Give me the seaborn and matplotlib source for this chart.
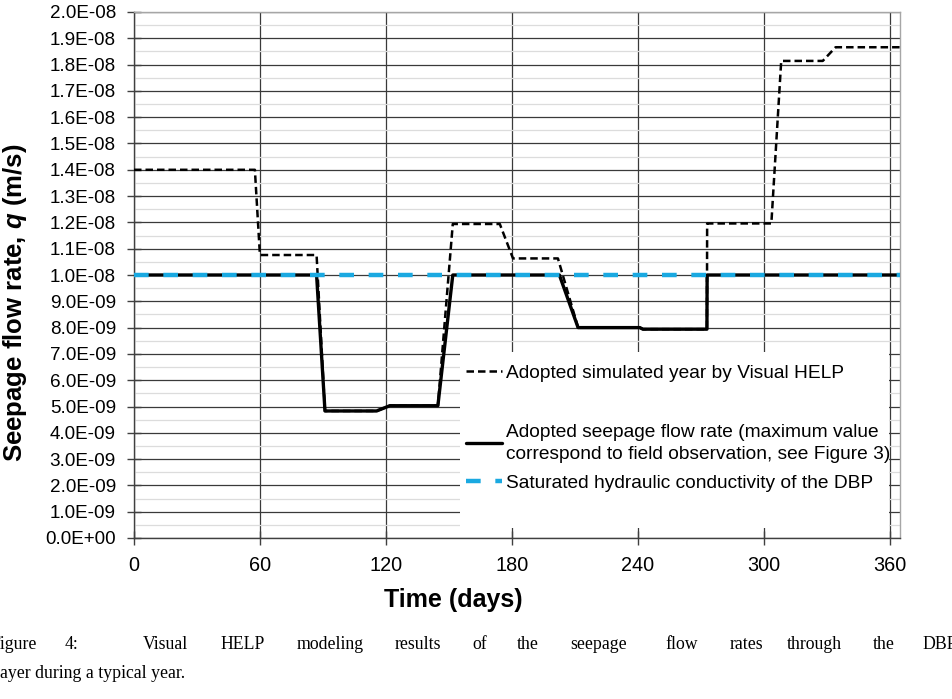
import matplotlib
matplotlib.use("Agg")
import matplotlib.pyplot as plt
import matplotlib.ticker as mticker
from matplotlib.patches import Rectangle
from matplotlib.lines import Line2D
import seaborn as sns
import pandas as pd

# ---------------- data ----------------
sim_days = [0, 57.6, 60, 87, 91, 115.6, 121.9, 144.8, 151.9, 174.3, 180.6, 202,
            211.6, 241, 242.5, 273, 273.1, 303.7, 308.4, 328.2, 334.3, 365]
sim_q = [1.40e-8, 1.40e-8, 1.076e-8, 1.076e-8, 0.483e-8, 0.483e-8, 0.503e-8, 0.503e-8,
         1.194e-8, 1.194e-8, 1.063e-8, 1.063e-8, 0.80e-8, 0.80e-8, 0.794e-8, 0.794e-8,
         1.196e-8, 1.196e-8, 1.814e-8, 1.814e-8, 1.866e-8, 1.866e-8]

adopt_days = [0, 87, 91, 115.6, 121.9, 144.8, 151.9, 202.7, 211.6, 241, 242.5, 273, 273.1, 365]
adopt_q = [1.0e-8, 1.0e-8, 0.483e-8, 0.483e-8, 0.503e-8, 0.503e-8, 1.0e-8, 1.0e-8,
           0.80e-8, 0.80e-8, 0.794e-8, 0.794e-8, 1.0e-8, 1.0e-8]

ksat_days = [0, 365]
ksat_q = [1.0e-8, 1.0e-8]

labels = ["Adopted simulated year by Visual HELP",
          "Adopted seepage flow rate (maximum value\ncorrespond to field observation, see Figure 3)",
          "Saturated hydraulic conductivity of the DBP"]

x_ticks = [0, 60, 120, 180, 240, 300, 360]
caption_line1 = ["Figure", "4:", "Visual", "HELP", "modeling", "results", "of", "the",
                 "seepage", "flow", "rates", "through", "the", "DBP"]
caption_line2 = "layer during a typical year."

# ---------------- style ----------------
sns.set_theme(style="white")
plt.rcParams["font.family"] = ["Liberation Sans", "DejaVu Sans"]
plt.rcParams["text.color"] = "black"
plt.rcParams["axes.labelcolor"] = "black"
plt.rcParams["xtick.color"] = "black"
plt.rcParams["ytick.color"] = "black"
plt.rcParams["mathtext.fontset"] = "custom"
plt.rcParams["mathtext.rm"] = "Liberation Sans:bold"
plt.rcParams["mathtext.it"] = "Liberation Sans:bold:italic"
plt.rcParams["mathtext.bf"] = "Liberation Sans:bold"

W, H = 953, 699
fig = plt.figure(figsize=(W / 100, H / 100), dpi=100)
L, R, T, B = 134, 900, 12, 538
ax = fig.add_axes([L / W, 1 - B / H, (R - L) / W, (B - T) / H])

df_sim = pd.DataFrame({"day": sim_days, "q": sim_q})
df_adopt = pd.DataFrame({"day": adopt_days, "q": adopt_q})
df_ksat = pd.DataFrame({"day": ksat_days, "q": ksat_q})

SIM_LW, SIM_DASH = 1.8, (3.0, 1.6)
ADP_LW = 2.4
KS_LW, KS_DASH = 3.2, (3.3, 3.3)
KS_COLOR = "#1AA9E1"

sns.lineplot(data=df_sim, x="day", y="q", ax=ax, color="black", linewidth=SIM_LW,
             estimator=None, sort=False, zorder=3)
ax.lines[-1].set_dashes(SIM_DASH)
sns.lineplot(data=df_adopt, x="day", y="q", ax=ax, color="black", linewidth=ADP_LW,
             estimator=None, sort=False, zorder=4)
sns.lineplot(data=df_ksat, x="day", y="q", ax=ax, color=KS_COLOR, linewidth=KS_LW,
             estimator=None, sort=False, zorder=5)
ax.lines[-1].set_dashes(KS_DASH)

ax.set_xlim(0, 365)
ax.set_ylim(0, 2.0e-8)
ax.set_xticks(x_ticks)
ax.yaxis.set_major_locator(mticker.MultipleLocator(1e-9))
ax.yaxis.set_minor_locator(mticker.MultipleLocator(5e-10))
ax.yaxis.set_major_formatter(mticker.FuncFormatter(lambda v, p: f"{v:.1E}"))
ax.tick_params(axis="y", which="major", direction="inout", length=10, width=1,
               color="#404040", labelsize=13.6, pad=8, labelcolor="black")
ax.tick_params(axis="y", which="minor", length=0)
ax.tick_params(axis="x", which="major", direction="inout", length=10, width=1,
               color="#404040", labelsize=14.3, pad=8, labelcolor="black")
ax.tick_params(left=True, bottom=True)

ax.grid(True, which="major", axis="both", color="#3a3a3a", linewidth=0.9, zorder=1)
ax.grid(True, which="minor", axis="y", color="#dcdcdc", linewidth=0.9, zorder=0.5)
ax.set_axisbelow(True)
for s in ["left", "bottom"]:
    ax.spines[s].set_color("#404040")
    ax.spines[s].set_linewidth(1.0)
for s in ["top", "right"]:
    ax.spines[s].set_color("#a6a6a6")
    ax.spines[s].set_linewidth(1.0)

ax.set_xlabel("Time (days)", fontsize=18, fontweight="bold", color="black")
ax.set_ylabel(r"Seepage flow rate, $\mathit{q}$ (m/s)", fontsize=18.5,
              fontweight="bold", color="black")
ax.yaxis.set_label_coords((15 - L) / (R - L), (B - 303) / (B - T))
ax.xaxis.set_label_coords((453 - L) / (R - L), -(600 - B) / (B - T))
ax.xaxis.label.set_va("center")
ax.yaxis.label.set_va("center")

# legend background box
bx0 = (460 - L) / (R - L)
bx1 = (889 - L) / (R - L)
by0 = (B - 528) / (B - T)
by1 = (B - 352) / (B - T)
ax.add_patch(Rectangle((bx0, by0), bx1 - bx0, by1 - by0, transform=ax.transAxes,
                       facecolor="white", edgecolor="none", zorder=2.5))

h_sim = Line2D([], [], color="black", linewidth=SIM_LW, dashes=SIM_DASH)
h_adopt = Line2D([], [], color="black", linewidth=ADP_LW)
h_ksat = Line2D([], [], color=KS_COLOR, linewidth=KS_LW, dashes=KS_DASH)

hx = (466 - L) / (R - L)
leg1 = ax.legend([h_sim], [labels[0]], loc="center left",
                 bbox_to_anchor=(hx, (B - 373) / (B - T)), frameon=False,
                 fontsize=13.8, handlelength=1.9, handletextpad=0.2, borderpad=0,
                 borderaxespad=0)
ax.add_artist(leg1)
leg2 = ax.legend([h_adopt, h_ksat], labels[1:], loc="center left",
                 bbox_to_anchor=(hx, (B - 458) / (B - T)), frameon=False,
                 fontsize=13.8, handlelength=1.9, handletextpad=0.2, borderpad=0,
                 borderaxespad=0, labelspacing=0.6)
for lg in (leg1, leg2):
    lg.set_zorder(6)
    for t in lg.get_texts():
        t.set_linespacing(1.35)
        t.set_color("black")

# caption (justified words)
word_x = [-10, 65, 143, 220, 297, 395, 472, 517, 570, 665, 730, 787, 873, 922]
for w, x in zip(caption_line1, word_x):
    fig.text(x / W, 1 - 649 / H, w, family=["Liberation Serif", "DejaVu Serif"],
             fontsize=12.8, ha="left", va="baseline", color="black")
fig.text(-5 / W, 1 - 678 / H, caption_line2, family=["Liberation Serif", "DejaVu Serif"],
         fontsize=12.8, ha="left", va="baseline", color="black")

fig.savefig("out.png", dpi=100, facecolor="white")
